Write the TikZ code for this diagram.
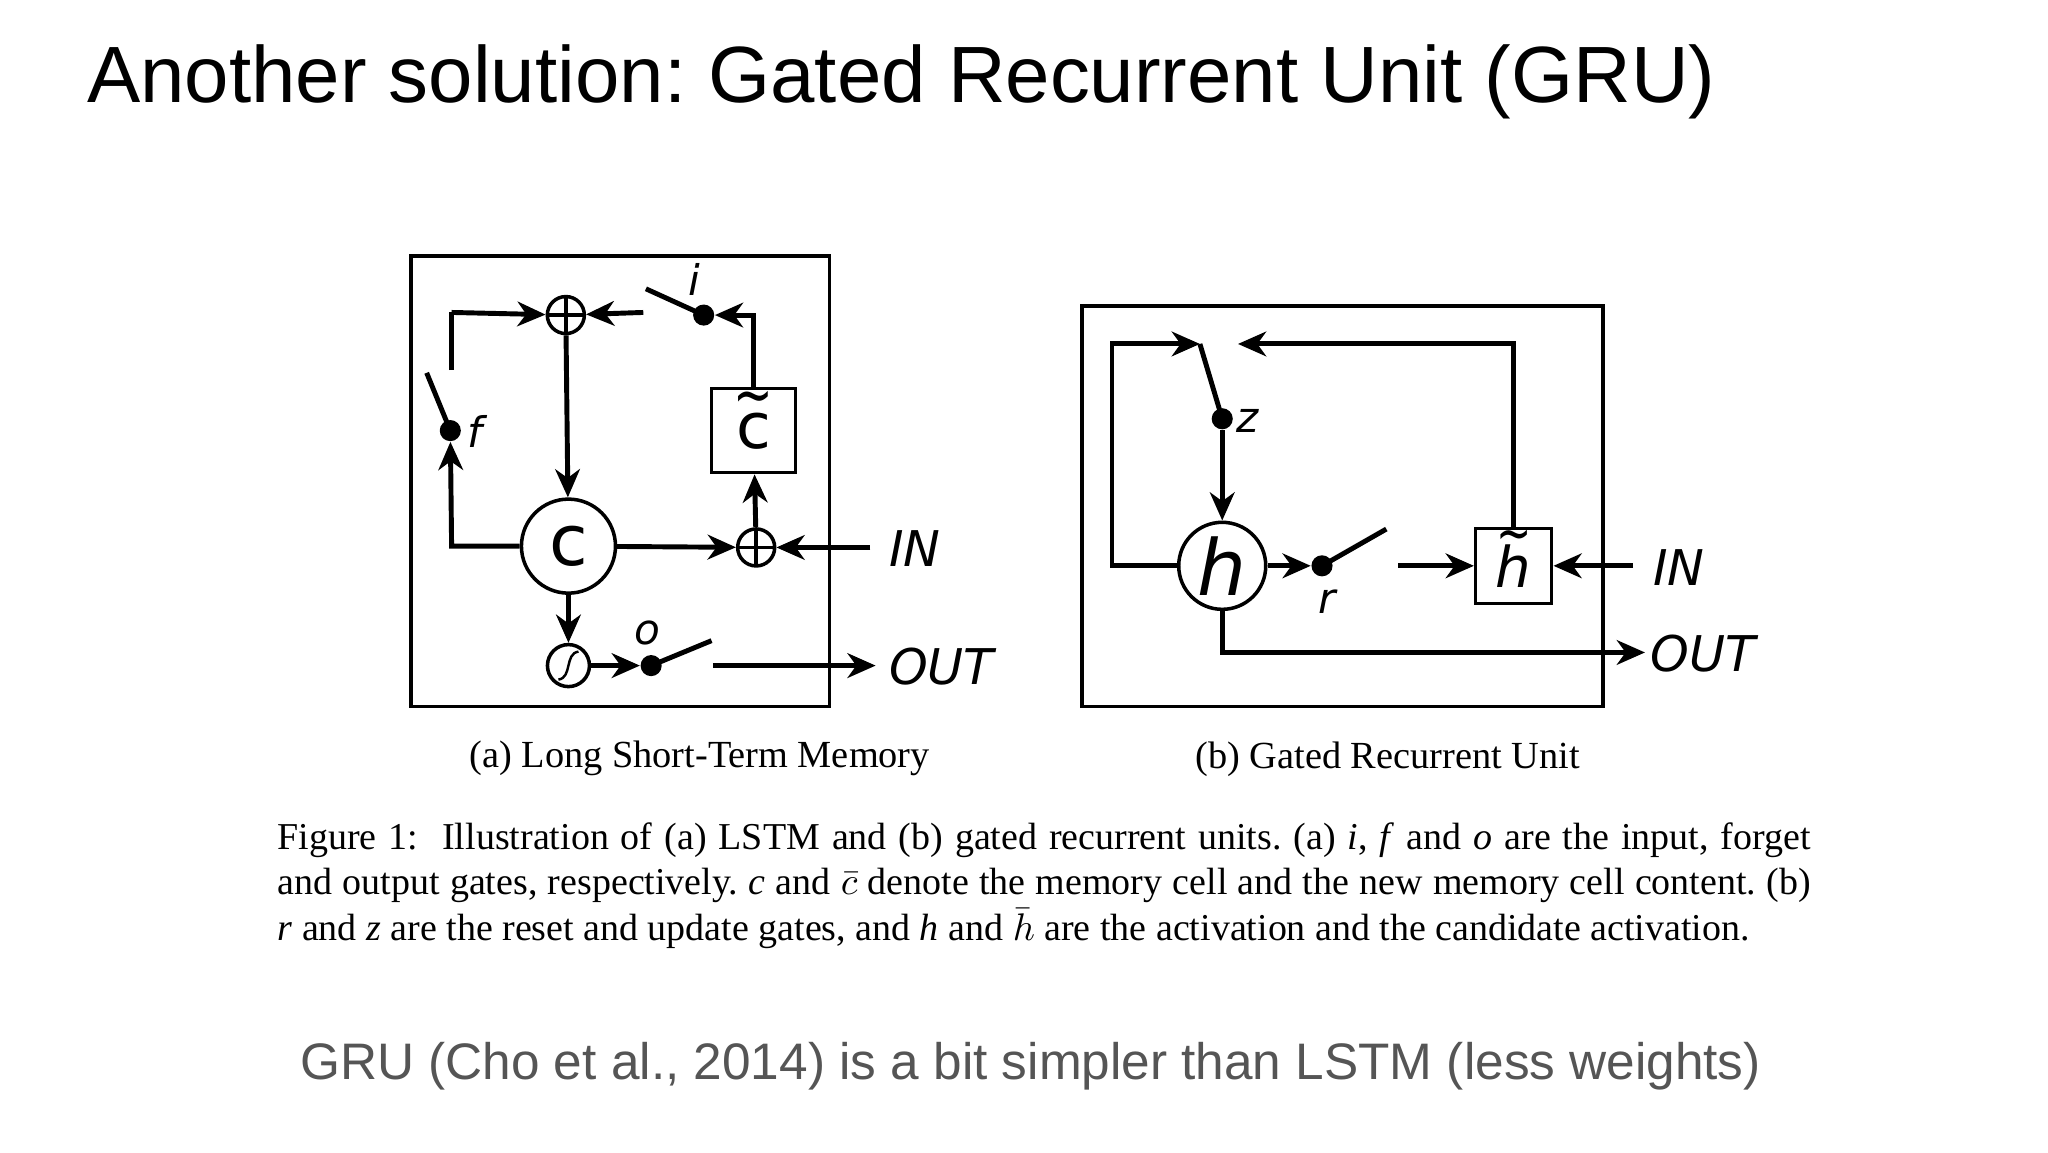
\documentclass[tikz,border=0pt]{standalone}
\usepackage{fontspec}
\setmainfont{Liberation Sans}
\newfontfamily\capfont{Liberation Serif}
\newfontfamily\diafont{DejaVu Sans}
\usetikzlibrary{arrows.meta,positioning,calc}
\definecolor{subgray}{RGB}{85,85,85}
\newcommand{\tildeover}[2][0.5em]{{\ooalign{#2\cr\hidewidth\raisebox{#1}{\scalebox{0.75}[1]{\textasciitilde}}\hidewidth\cr}}}

\begin{document}
\frenchspacing
\begin{tikzpicture}[x=0.013128cm,y=-0.013128cm,
    ln/.style={line width=1.4pt},
    arr/.style={ln,-{Stealth[length=8pt,width=7pt,inset=2.5pt]}},
    frame/.style={draw,line width=1pt},
    unit/.style={draw,circle,line width=1pt,inner sep=0pt},
    dot/.style={circle,fill,inner sep=0pt,minimum size=6pt},
    plus/.style={unit,minimum size=0.37cm,path picture={\draw[line width=1pt] (path picture bounding box.north)--(path picture bounding box.south) (path picture bounding box.west)--(path picture bounding box.east);}},
    lab/.style={font=\diafont\itshape\fontsize{12}{12}\selectfont,inner sep=1pt},
    io/.style={font=\diafont\itshape\fontsize{14}{14}\selectfont,inner sep=1pt},
    subcap/.style={font=\capfont\fontsize{10.9}{12}\selectfont}]
    \useasboundingbox[fill=white] (0,0) rectangle (1560,878);

    \node[anchor=base west,inner sep=0pt,font=\fontsize{22.7}{23}\selectfont] (title) at (66,78) {Another solution: Gated Recurrent Unit (GRU)};

    % LSTM
    \draw[frame] (313,195) rectangle (632,538);
    \node[unit,minimum size=0.94cm,font=\diafont\fontsize{20}{20}\selectfont] (c) at (433,416) {c};
    \node[plus] (p1) at (431,240) {};
    \node[plus] (p2) at (576,417) {};
    \node[draw,line width=1pt,minimum width=0.84cm,minimum height=0.84cm,inner sep=1pt,font=\diafont\fontsize{18}{18}\selectfont] (ct) at (574,328) {\tildeover{c}};
    \node[unit,minimum size=0.42cm] (sg) at (433,507) {};
    \draw[line width=0.7pt] ([shift={(-0.1cm,-0.14cm)}]sg.center) .. controls ([shift={(0.04cm,-0.12cm)}]sg.center) and ([shift={(-0.04cm,0.12cm)}]sg.center) .. ([shift={(0.1cm,0.14cm)}]sg.center);
    \node[dot] (fd) at (343,328) {};
    \node[dot] (id) at (536,240) {};
    \node[dot] (od) at (496,507) {};
    \coordinate (fl) at (344,238);
    \coordinate (fs) at (344,282);
    \coordinate (fb) at (344,416);
    \coordinate (ie) at (490,238);
    \coordinate (in1) at (663,417);
    \coordinate (os) at (543,507);
    \coordinate (oe) at (667,507);
    \draw[ln] (fs) -- (fl);
    \draw[arr] (fl) -- (p1);
    \draw[arr] (ie) -- (p1);
    \draw[ln] (fd.center) -- (325,284);
    \draw[ln] (id.center) -- (492,220);
    \draw[ln] (od.center) -- (542,488);
    \draw[arr] (c.west) -- (fb) -- (fd);
    \draw[arr] (ct.north) |- (id);
    \draw[arr] (p1) -- (c);
    \draw[arr] (c) -- (p2);
    \draw[arr] (in1) -- (p2);
    \draw[arr] (p2) -- (ct);
    \draw[arr] (c) -- (sg);
    \draw[arr] (sg) -- (od);
    \draw[arr] (os) -- (oe);
    \node[lab] at (362,329) {f};
    \node[lab] at (529,213) {i};
    \node[lab] at (493,482) {o};
    \node[io,anchor=west] at (674,418) {IN};
    \node[io,anchor=west] at (674,508) {OUT};

    % GRU
    \draw[frame] (824,233) rectangle (1221,538);
    \node[unit,minimum size=0.87cm,font=\diafont\itshape\fontsize{22}{22}\selectfont] (h) at (931,431) {h};
    \node[draw,line width=1pt,minimum width=0.76cm,minimum height=0.75cm,inner sep=1pt,font=\diafont\itshape\fontsize{16}{16}\selectfont] (ht) at (1153,431) {\tildeover[0.62em]{h}};
    \node[dot] (zd) at (931,319) {};
    \node[dot] (rd) at (1007,431) {};
    \coordinate (zl) at (847,262);
    \coordinate (zt) at (914,262);
    \coordinate (zr) at (943,262);
    \coordinate (rs) at (1065,431);
    \coordinate (in2) at (1244,431);
    \coordinate (hb) at (931,497);
    \coordinate (oe2) at (1253,497);
    \draw[arr] (h.west) -- (847,431) -- (zl) -- (zt);
    \draw[ln] (zt) -- (zd.center);
    \draw[arr] (ht.north) |- (zr);
    \draw[arr] (zd) -- (h);
    \draw[arr] (h) -- (rd);
    \draw[ln] (rd.center) -- (1056,403);
    \draw[arr] (rs) -- (ht);
    \draw[arr] (in2) -- (ht);
    \draw[arr] (h.south) -- (hb) -- (oe2);
    \node[lab] at (950,321) {z};
    \node[lab] at (1011,458) {r};
    \node[io,anchor=west] at (1256,432) {IN};
    \node[io,anchor=west] at (1254,498) {OUT};

    % captions
    \node[subcap] (capa) at (533,578) {(a) Long Short-Term Memory};
    \node[subcap] (capb) at (1057,578) {(b) Gated Recurrent Unit};
    \node[anchor=north west,inner sep=0pt,font=\capfont\fontsize{10.8}{13}\selectfont,text width=436pt,align=justify] (fig) at (211,626)
      {Figure 1:\ \ Illustration of (a) LSTM and (b) gated recurrent units. (a) \textit{i}, \textit{f} and \textit{o} are the input, forget\linebreak
       and output gates, respectively. \textit{c} and $\bar{c}$ denote the memory cell and the new memory cell content. (b)\linebreak
       \textit{r} and \textit{z} are the reset and update gates, and \textit{h} and $\bar{h}$ are the activation and the candidate activation.};
    \node[font=\fontsize{14.6}{15}\selectfont,text=subgray] (note) at (785,812) {GRU (Cho et al., 2014) is a bit simpler than LSTM (less weights)};
\end{tikzpicture}
\end{document}
